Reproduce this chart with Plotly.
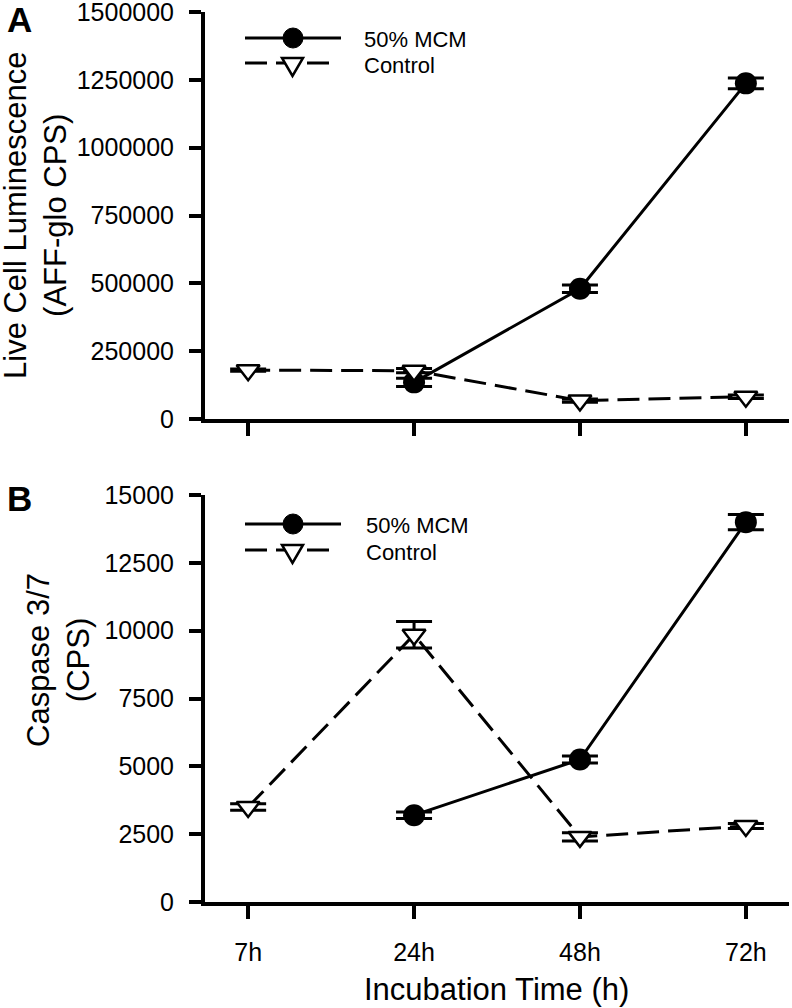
import plotly.graph_objects as go

# ---- data ----
times = ["7h", "24h", "48h", "72h"]

a_mcm = [None, 135000, 480000, 1237000]
a_mcm_err = [0, 15000, 14000, 20000]
a_ctrl = [180000, 178000, 68000, 82000]
a_ctrl_err = [4000, 8000, 6000, 6000]

b_mcm = [None, 3200, 5250, 14000]
b_mcm_err = [0, 120, 130, 285]
b_ctrl = [3500, 9850, 2400, 2800]
b_ctrl_err = [120, 490, 150, 90]

a_ticks = [0, 250000, 500000, 750000, 1000000, 1250000, 1500000]
b_ticks = [0, 2500, 5000, 7500, 10000, 12500, 15000]

series_names = ["50% MCM", "Control"]
panel_letters = ["A", "B"]
ya_title = "Live Cell Luminescence<br>(AFF-glo CPS)"
yb_title = "Caspase 3/7<br>(CPS)"
x_title = "Incubation Time (h)"

W, H = 792, 1008
FONT = "Liberation Sans, Arial, sans-serif"
DASH = "22px,9px"


def px(x):
    return x / W


def py(y):
    return 1 - y / H


fig = go.Figure()


def add_panel(mcm, mcm_err, ctrl, ctrl_err, xa, ya):
    fig.add_trace(go.Scatter(
        x=times, y=mcm, xaxis=xa, yaxis=ya, mode="lines+markers",
        line=dict(color="black", width=3),
        marker=dict(symbol="circle", size=22, color="black"),
        error_y=dict(type="data", array=mcm_err, visible=True,
                     color="black", thickness=3, width=18),
        showlegend=False, connectgaps=False))
    fig.add_trace(go.Scatter(
        x=times, y=ctrl, xaxis=xa, yaxis=ya, mode="lines+markers",
        line=dict(color="black", width=3, dash=DASH),
        marker=dict(symbol="triangle-down", size=20, color="white",
                    line=dict(color="black", width=2.5)),
        error_y=dict(type="data", array=ctrl_err, visible=True,
                     color="black", thickness=3, width=18),
        showlegend=False))


add_panel(a_mcm, a_mcm_err, a_ctrl, a_ctrl_err, "x", "y")
add_panel(b_mcm, b_mcm_err, b_ctrl, b_ctrl_err, "x2", "y2")

xdom = [px(205), px(789)]
common_x = dict(domain=xdom, range=[-0.26, 3.26], type="category",
                showline=True, linewidth=4, linecolor="black",
                ticks="outside", ticklen=13, tickwidth=4, tickcolor="black",
                showgrid=False, zeroline=False, automargin=False,
                ticklabeloverflow="allow",
                tickfont=dict(family=FONT, size=25, color="black"))
common_y = dict(showline=True, linewidth=4, linecolor="black",
                ticks="outside", ticklen=12, tickwidth=4, tickcolor="black",
                showgrid=False, zeroline=False, ticklabelstandoff=10,
                automargin=False, ticklabeloverflow="allow",
                tickfont=dict(family=FONT, size=25, color="black"))

fig.update_layout(
    width=W, height=H, margin=dict(l=0, r=0, t=0, b=0, autoexpand=False),
    paper_bgcolor="white", plot_bgcolor="white",
    xaxis=dict(anchor="y", showticklabels=False, **common_x),
    xaxis2=dict(anchor="y2", showticklabels=True, ticklabelstandoff=12, **common_x),
    yaxis=dict(anchor="x", domain=[py(419), py(12)], range=[0, 1500000],
               tickvals=a_ticks, ticktext=[str(t) for t in a_ticks], **common_y),
    yaxis2=dict(anchor="x2", domain=[py(902), py(495)], range=[0, 15000],
                tickvals=b_ticks, ticktext=[str(t) for t in b_ticks], **common_y),
)

ann = []
# panel letters
for letter, yc in zip(panel_letters, [19, 498]):
    ann.append(dict(text="<b>%s</b>" % letter, x=px(19), y=py(yc), xref="paper", yref="paper",
                    showarrow=False, xanchor="center", yanchor="middle",
                    font=dict(family=FONT, size=35, color="black")))
# y titles
ann.append(dict(text=ya_title, x=px(35), y=py(216), xref="paper", yref="paper",
                textangle=-90, showarrow=False, xanchor="center", yanchor="middle",
                font=dict(family=FONT, size=31, color="black")))
ann.append(dict(text=yb_title, x=px(58), y=py(660), xref="paper", yref="paper",
                textangle=-90, showarrow=False, xanchor="center", yanchor="middle",
                font=dict(family=FONT, size=31, color="black")))
# x title
ann.append(dict(text=x_title, x=px(497), y=py(989), xref="paper", yref="paper",
                showarrow=False, xanchor="center", yanchor="middle",
                font=dict(family=FONT, size=31, color="black")))

shapes = []
# legends (drawn as decoration)
for (l_mcm, l_ctrl, tx) in [((38, 40), (63, 66), 362), ((524, 525), (550, 552), 364)]:
    ymcm, tmcm = l_mcm
    yct, tct = l_ctrl
    shapes.append(dict(type="line", xref="paper", yref="paper",
                       x0=px(245), x1=px(341), y0=py(ymcm), y1=py(ymcm),
                       line=dict(color="black", width=3)))
    shapes.append(dict(type="circle", xref="paper", yref="paper",
                       x0=px(283), x1=px(303), y0=py(ymcm + 10), y1=py(ymcm - 10),
                       fillcolor="black", line=dict(color="black", width=1)))
    shapes.append(dict(type="line", xref="paper", yref="paper",
                       x0=px(245), x1=px(331), y0=py(yct), y1=py(yct),
                       line=dict(color="black", width=3, dash=DASH)))
    tri = "M %f,%f L %f,%f L %f,%f Z" % (px(282), py(yct - 5), px(303), py(yct - 5),
                                          px(292.5), py(yct + 13))
    shapes.append(dict(type="path", xref="paper", yref="paper", path=tri,
                       fillcolor="white", line=dict(color="black", width=2.5)))
    ann.append(dict(text=series_names[0], x=px(tx), y=py(tmcm), xref="paper", yref="paper",
                    showarrow=False, xanchor="left", yanchor="middle",
                    font=dict(family=FONT, size=22, color="black")))
    ann.append(dict(text=series_names[1], x=px(tx), y=py(tct), xref="paper", yref="paper",
                    showarrow=False, xanchor="left", yanchor="middle",
                    font=dict(family=FONT, size=22, color="black")))

fig.update_layout(annotations=ann, shapes=shapes)

post = ("document.documentElement.style.margin='0';"
        "document.body.style.margin='0';"
        "document.body.style.overflow='hidden';"
        "document.documentElement.style.overflow='hidden';")
fig.write_html("out.html", post_script=post, config={"displayModeBar": False})
